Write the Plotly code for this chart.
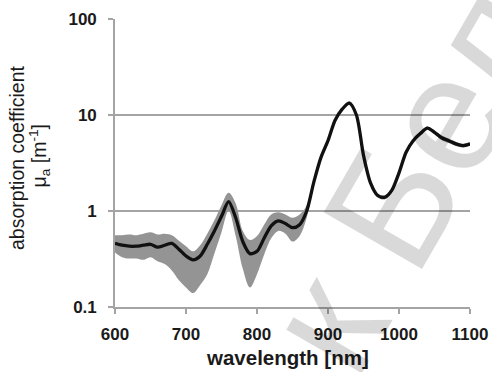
import plotly.graph_objects as go

# Wavelength grid [nm]
wavelength = [600, 610, 620, 630, 640, 650, 660, 670, 680, 690,
              700, 710, 720, 730, 740, 750, 760, 770, 780, 790,
              800, 810, 820, 830, 840, 850, 860, 870, 880, 890,
              900, 910, 920, 930, 940, 950, 960, 970, 980, 990,
              1000, 1010, 1020, 1030, 1040, 1050, 1060, 1070, 1080, 1090, 1100]

# Mean absorption coefficient [1/m]
mu_mean = [0.46, 0.44, 0.43, 0.43, 0.44, 0.45, 0.42, 0.44, 0.46, 0.40,
           0.34, 0.31, 0.34, 0.45, 0.62, 0.88, 1.25, 0.85, 0.48, 0.36,
           0.38, 0.52, 0.70, 0.79, 0.74, 0.67, 0.72, 1.0, 2.0, 3.6,
           5.4, 8.8, 11.5, 13.3, 10.0, 3.8, 1.95, 1.45, 1.39, 1.65,
           2.5, 4.1, 5.4, 6.4, 7.3, 6.6, 5.8, 5.4, 5.0, 4.8, 5.0]

# Spread of the measurements (upper / lower envelope)
mu_upper = [0.56, 0.56, 0.57, 0.56, 0.58, 0.60, 0.57, 0.58, 0.56, 0.49,
            0.43, 0.38, 0.44, 0.58, 0.80, 1.15, 1.55, 1.20, 0.62, 0.50,
            0.55, 0.72, 0.92, 0.97, 0.92, 0.85, 0.92, 1.15, 2.15, 3.8,
            5.7, 9.2, 12.0, 13.9, 10.5, 4.0, 2.05, 1.52, 1.46, 1.73,
            2.6, 4.3, 5.7, 6.7, 7.6, 6.9, 6.1, 5.7, 5.25, 5.0, 5.2]
mu_lower = [0.37, 0.33, 0.32, 0.32, 0.31, 0.33, 0.30, 0.28, 0.24, 0.19,
            0.16, 0.14, 0.17, 0.22, 0.36, 0.60, 1.00, 0.55, 0.25, 0.16,
            0.22, 0.35, 0.52, 0.62, 0.58, 0.48, 0.55, 0.85, 1.85, 3.4,
            5.1, 8.4, 11.0, 12.7, 9.5, 3.6, 1.85, 1.38, 1.32, 1.57,
            2.4, 3.9, 5.1, 6.1, 7.0, 6.3, 5.5, 5.1, 4.75, 4.6, 4.8]

x_ticks = [600, 700, 800, 900, 1000, 1100]
y_ticks = [0.1, 1, 10, 100]
y_ticklabels = ["0.1", "1", "10", "100"]

GRID = "#a4a4a4"
BAND = "rgb(148,148,148)"
FONT = "Liberation Sans, Arial, sans-serif"

fig = go.Figure()

# shaded envelope
fig.add_trace(go.Scatter(x=wavelength, y=mu_upper, mode="lines",
                         line=dict(width=0, color=BAND, shape="spline"),
                         hoverinfo="skip", showlegend=False))
fig.add_trace(go.Scatter(x=wavelength, y=mu_lower, mode="lines", fill="tonexty",
                         fillcolor=BAND,
                         line=dict(width=0, color=BAND, shape="spline"),
                         hoverinfo="skip", showlegend=False))
# mean spectrum
fig.add_trace(go.Scatter(x=wavelength, y=mu_mean, mode="lines",
                         line=dict(width=3.3, color="#111111", shape="spline", smoothing=0.8),
                         showlegend=False))

fig.update_layout(
    width=492, height=372,
    margin=dict(l=115, r=22, t=19, b=65),
    paper_bgcolor="white", plot_bgcolor="white",
    font=dict(family=FONT, color="#1a1a1a"),
    xaxis=dict(range=[600, 1100], tickvals=x_ticks, showgrid=False, automargin=False,
               showline=True, linecolor=GRID, linewidth=1.6,
               ticks="outside", ticklen=5, tickwidth=1.5, tickcolor=GRID,
               ticklabelstandoff=6,
               tickfont=dict(size=17, family=FONT, weight="bold"),
               zeroline=False),
    yaxis=dict(type="log", range=[-1, 2], tickvals=y_ticks, ticktext=y_ticklabels,
               showgrid=True, gridcolor=GRID, gridwidth=1.6, automargin=False,
               showline=True, linecolor=GRID, linewidth=1.6,
               ticks="outside", ticklen=5, tickwidth=1.5, tickcolor=GRID,
               ticklabelstandoff=8,
               tickfont=dict(size=17, family=FONT, weight="bold"),
               zeroline=False),
    annotations=[
        dict(text="wavelength [nm]", xref="paper", yref="paper",
             x=0.485, y=-0.174, xanchor="center", yanchor="middle", showarrow=False,
             font=dict(size=20.5, family=FONT, weight="bold")),
        dict(text="absorption coefficient",
             xref="paper", yref="paper", x=-0.274, y=0.52, textangle=-90,
             xanchor="center", yanchor="middle",
             showarrow=False, font=dict(size=19.5, family=FONT)),
        dict(text="\u03bc<sub>a</sub> [m<sup>-1</sup>]",
             xref="paper", yref="paper", x=-0.212, y=0.525, textangle=-90,
             xanchor="center", yanchor="middle",
             showarrow=False, font=dict(size=19.5, family=FONT)),
        dict(text="к Бел", xref="paper", yref="paper", x=0.83, y=0.45,
             xanchor="center", yanchor="middle",
             textangle=-60, showarrow=False,
             font=dict(size=165, family=FONT, color="rgba(0,0,0,0.15)")),
    ],
)

fig.write_html("out.html")
